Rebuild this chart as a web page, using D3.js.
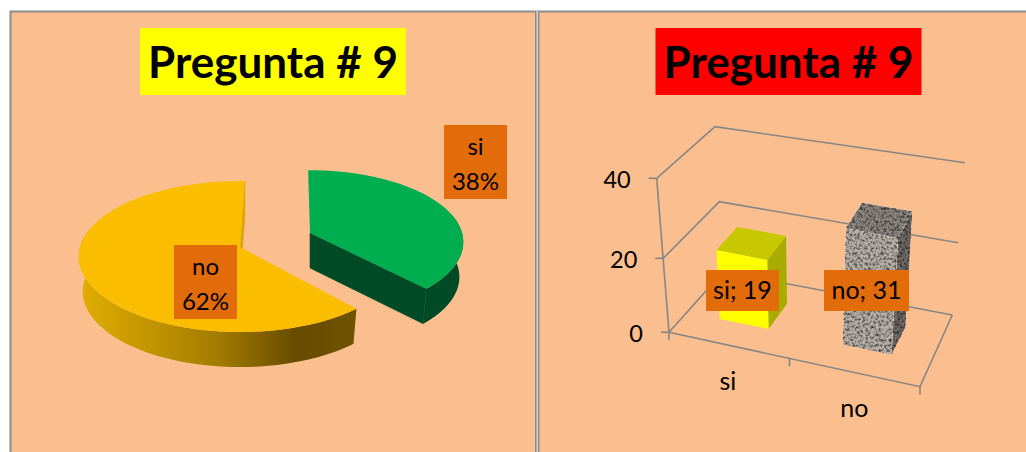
<!DOCTYPE html>
<html>
<head>
<meta charset="utf-8">
<title>Pregunta # 9</title>
<script src="https://d3js.org/d3.v7.min.js"></script>
<style>
  html, body { margin: 0; padding: 0; background: #fff; overflow: hidden; }
  text { font-family: Lato, Carlito, Arial, sans-serif; fill: #000; }
</style>
</head>
<body>
<div id="chart"></div>
<script>
// chart values
var categories = ["si", "no"];
var counts = [19, 31];
var yTicks = [0, 20, 40];
var titleText = "Pregunta # 9";

var width = 1026, height = 452;
var peach = "#fbbf8f", orange = "#e36c0a", axisGrey = "#868686";
var rad = Math.PI / 180;

var svg = d3.select("#chart").append("svg")
    .attr("width", width)
    .attr("height", height)
    .style("display", "block");

var defs = svg.append("defs");

// shading along the side of the "no" slice
var wallGrad = defs.append("linearGradient")
    .attr("id", "noWall")
    .attr("gradientUnits", "userSpaceOnUse")
    .attr("x1", 80).attr("x2", 352).attr("y1", 0).attr("y2", 0);
wallGrad.selectAll("stop")
    .data([[0, "#e0ad00"], [0.2, "#c89a00"], [0.5, "#a47c00"], [0.8, "#664b00"], [1, "#705300"]])
    .enter().append("stop")
    .attr("offset", function(d) { return d[0]; })
    .attr("stop-color", function(d) { return d[1]; });

// stone texture for the "no" column
var granite = defs.append("filter")
    .attr("id", "granite")
    .attr("x", 0).attr("y", 0).attr("width", 1).attr("height", 1)
    .attr("color-interpolation-filters", "sRGB");
granite.append("feTurbulence")
    .attr("type", "fractalNoise")
    .attr("baseFrequency", 0.38)
    .attr("numOctaves", 2)
    .attr("seed", 7)
    .attr("result", "noise");
granite.append("feColorMatrix")
    .attr("in", "noise")
    .attr("type", "matrix")
    .attr("values", "1.7 0 0 0 0.02  1.7 0 0 0 0.02  1.7 0 0 0 0.02  0 0 0 0 1")
    .attr("result", "grey");
granite.append("feBlend")
    .attr("in", "SourceGraphic")
    .attr("in2", "grey")
    .attr("mode", "multiply")
    .attr("result", "mixed");
granite.append("feComposite")
    .attr("in", "mixed")
    .attr("in2", "SourceGraphic")
    .attr("operator", "in");

// panels
svg.append("rect").attr("x", 10).attr("y", 11).attr("width", 1016).attr("height", 441).attr("fill", peach);
svg.append("path")
    .attr("d", "M10.5,452V11.5H1026")
    .attr("fill", "none").attr("stroke", "#8c8c8c").attr("stroke-width", 2);
svg.append("rect").attr("x", 535).attr("y", 11).attr("width", 4).attr("height", 441).attr("fill", "#d4d4d4");
svg.append("rect").attr("x", 535).attr("y", 11).attr("width", 1.5).attr("height", 441).attr("fill", "#8c8c8c");
svg.append("rect").attr("x", 538).attr("y", 11).attr("width", 1.5).attr("height", 441).attr("fill", "#8c8c8c");

function addTitle(cx, fill) {
    svg.append("rect")
        .attr("x", cx - 133).attr("y", 28)
        .attr("width", 266).attr("height", 67)
        .attr("fill", fill);
    svg.append("text")
        .attr("x", cx).attr("y", 78)
        .attr("text-anchor", "middle")
        .attr("font-size", 44)
        .attr("font-weight", 700)
        .text(titleText);
}
addTitle(273, "#ffff00");
addTitle(788.5, "#ff0000");

function addLabel(x, y, w, h, lines, baselines, size) {
    svg.append("rect")
        .attr("x", x).attr("y", y)
        .attr("width", w).attr("height", h)
        .attr("fill", orange);
    lines.forEach(function(line, i) {
        svg.append("text")
            .attr("x", x + w / 2).attr("y", baselines[i])
            .attr("text-anchor", "middle")
            .attr("font-size", size)
            .text(line);
    });
}

// ---- pie ----
var pieData = d3.pie().sort(null)(counts);
var line = d3.line();
var percent = d3.format(".0%");
var total = d3.sum(counts);

// each slice: where it sits once exploded, how much it is turned, its size
var sliceStyle = {
    si: {cx: 310, cy: 233, turn: -0.8 * rad, size: 0.95, top: "#00ae4f", cut: "#004a25", rim: "#004a25", rimFrom: 75 * rad},
    no: {cx: 240, cy: 247, turn: 2 * rad, size: 1, top: "#fbbd00", cut: "#d9a500", rim: "url(#noWall)", rimFrom: 285 * rad}
};
var pieRx = 160, pieRy = 74.3, tilt = 0.126, pieDepth = 35, depthShrink = 0.975;

function rimPoint(s, a) {
    var w = 1 + tilt * Math.cos(a);
    return [s.cx + s.size * pieRx * Math.sin(a) / w, s.cy - s.size * pieRy * Math.cos(a) / w];
}
function below(s, p) {
    return [s.cx + (p[0] - s.cx) * depthShrink, p[1] + pieDepth];
}
function arcPoints(s, a0, a1) {
    var n = 80;
    return d3.range(n + 1).map(function(i) {
        return rimPoint(s, a0 + (a1 - a0) * i / n);
    });
}

var pieG = svg.append("g");
pieData.forEach(function(d, i) {
    var s = sliceStyle[categories[i]];
    var a0 = d.startAngle + s.turn, a1 = d.endAngle + s.turn;
    var apex = [s.cx, s.cy];

    // outer wall, only the part that faces the viewer
    var from = categories[i] == "si" ? s.rimFrom : a0;
    var to = categories[i] == "si" ? a1 : s.rimFrom;
    var rim = arcPoints(s, from, to);
    pieG.append("path")
        .attr("d", line(rim.concat(rim.map(function(p) { return below(s, p); }).reverse())) + "Z")
        .attr("fill", s.rim);

    // cut face at the end of the slice, the one at its start faces away
    var p = rimPoint(s, a1);
    pieG.append("path")
        .attr("d", line([apex, p, below(s, p), below(s, apex)]) + "Z")
        .attr("fill", s.cut)
        .attr("stroke", s.cut)
        .attr("stroke-width", 0.6);

    // top face
    pieG.append("path")
        .attr("d", line([apex].concat(arcPoints(s, a0, a1))) + "Z")
        .attr("fill", s.top);
});

addLabel(444, 125, 63, 74, [categories[0], percent(counts[0] / total)], [155, 190], 24);
addLabel(174, 245, 63, 74, [categories[1], percent(counts[1] / total)], [275, 310], 24);

// ---- 3d columns ----
// box corners follow the value through scales, u runs left to right, v front to back
function cornerScale(range) { return d3.scaleLinear().domain(yTicks).range(range); }
var frontLeft = {x: cornerScale([669, 663.3, 656.7]), y: cornerScale([332.3, 258.3, 178.3])};
var backLeft = {x: cornerScale([723.3, 719.3, 715]), y: cornerScale([271.7, 201.7, 126.7])};
var backRight = {x: cornerScale([952.3, 958.3, 965]), y: cornerScale([315, 242.7, 162.7])};
var frontRight = {x: cornerScale([920, 926, 932]), y: cornerScale([386.7, 314, 234])};

function project(u, v, val) {
    function mix(key) {
        var front = frontLeft[key](val) * (1 - u) + frontRight[key](val) * u;
        var back = backLeft[key](val) * (1 - u) + backRight[key](val) * u;
        return front * (1 - v) + back * v;
    }
    return [mix("x"), mix("y")];
}

var xBand = d3.scaleBand()
    .domain(categories)
    .range([-0.0177, 0.991])
    .paddingInner(0.6036)
    .paddingOuter(0.3018);

var axisG = svg.append("g")
    .attr("fill", "none")
    .attr("stroke", axisGrey)
    .attr("stroke-width", 1.6);

function seg(points) { axisG.append("path").attr("d", line(points)); }

// walls and floor
yTicks.forEach(function(t) {
    seg([project(0, 0, t), project(0, 1, t), project(1, 1, t)]);
    var p = project(0, 0, t);
    seg([[p[0] - 8, p[1]], p]);
});
seg([project(0, 0, yTicks[0]), project(0, 0, yTicks[2])]);
seg([project(0, 0, 0), project(1, 0, 0), project(1, 1, 0)]);
[0, 0.48, 1].forEach(function(u) {
    var p = project(u, 0, 0);
    seg([p, [p[0], p[1] + 8]]);
});

var barFaces = {
    si: {front: "#ffff00", top: "#c8c800", side: "#a9ac00", filter: null},
    no: {front: "#b5afa7", top: "#8a8580", side: "#6f6a66", filter: "url(#granite)"}
};
var vFront = 0.333, vBack = 0.725;
var barG = svg.append("g");
categories.forEach(function(c, i) {
    var u0 = xBand(c), u1 = u0 + xBand.bandwidth(), val = counts[i], f = barFaces[c];
    var faces = [
        [f.side, [[u1, vFront, 0], [u1, vBack, 0], [u1, vBack, val], [u1, vFront, val]]],
        [f.top, [[u0, vFront, val], [u1, vFront, val], [u1, vBack, val], [u0, vBack, val]]],
        [f.front, [[u0, vFront, 0], [u1, vFront, 0], [u1, vFront, val], [u0, vFront, val]]]
    ];
    faces.forEach(function(face) {
        barG.append("path")
            .attr("d", line(face[1].map(function(p) { return project(p[0], p[1], p[2]); })) + "Z")
            .attr("fill", face[0])
            .attr("filter", f.filter);
    });
});

// tick and category labels
yTicks.forEach(function(t) {
    var p = project(0, 0, t);
    svg.append("text")
        .attr("x", p[0] - 26).attr("y", p[1] + 9.3)
        .attr("text-anchor", "end")
        .attr("font-size", 23.5)
        .text(t);
});
categories.forEach(function(c) {
    var p = project(xBand(c) + xBand.bandwidth() / 2, 0, 0);
    svg.append("text")
        .attr("x", p[0]).attr("y", p[1] + 45)
        .attr("text-anchor", "middle")
        .attr("font-size", 25)
        .text(c);
});

addLabel(706, 270, 73, 41, [categories[0] + "; " + counts[0]], [299], 25);
addLabel(824, 270, 85, 41, [categories[1] + "; " + counts[1]], [299], 25);
</script>
</body>
</html>
